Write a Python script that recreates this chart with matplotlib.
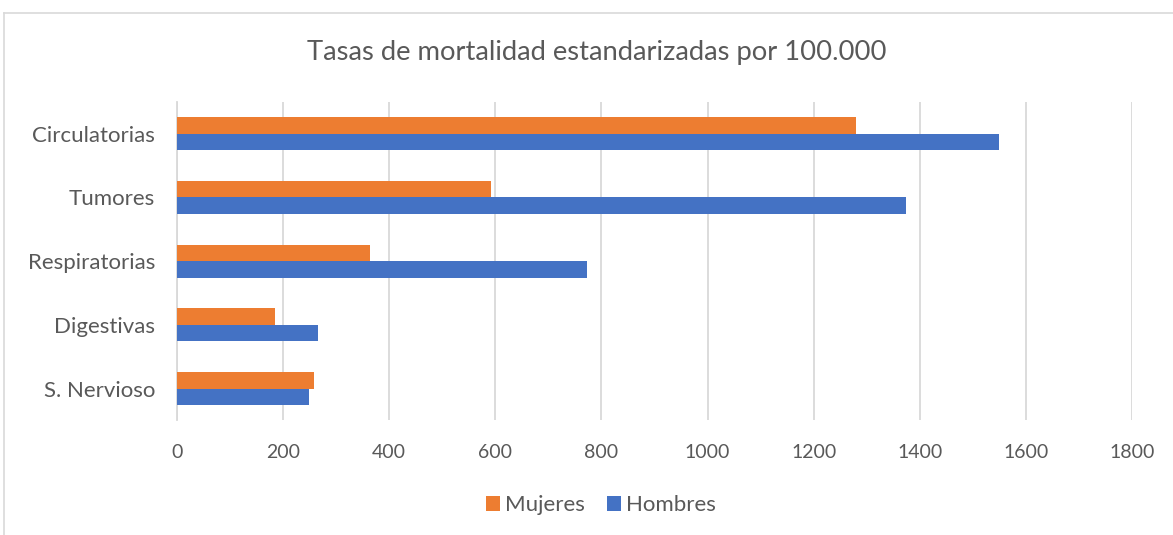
import matplotlib
matplotlib.use("Agg")
import matplotlib.pyplot as plt
import numpy as np

categories = ["Circulatorias", "Tumores", "Respiratorias", "Digestivas", "S. Nervioso"]
mujeres = [1279, 593, 364, 185, 259]
hombres = [1548, 1374, 772, 267, 249]
xticks = [0, 200, 400, 600, 800, 1000, 1200, 1400, 1600, 1800]

plt.rcParams['font.family'] = ['Lato', 'DejaVu Sans']
TXT = '#595959'
ORANGE = '#ED7D31'
BLUE = '#4472C4'
GRID = '#D9D9D9'

fig = plt.figure(figsize=(11.73, 5.35), dpi=100)
ax = fig.add_axes([0.1506, 0.2142, 0.8147, 0.5953])

y = np.arange(len(categories))
h = 0.259
ax.barh(y - h/2, mujeres, height=h, color=ORANGE, label='Mujeres', zorder=3)
ax.barh(y + h/2, hombres, height=h, color=BLUE, label='Hombres', zorder=3)

ax.set_xlim(0, 1800)
ax.set_ylim(len(categories) - 0.5, -0.5)
ax.set_xticks(xticks)
ax.set_xticklabels([str(t) for t in xticks])
ax.set_yticks(y)
ax.set_yticklabels(categories)
ax.grid(axis='x', color=GRID, linewidth=1.3, zorder=0)
for s in ['top', 'right', 'bottom']:
    ax.spines[s].set_visible(False)
ax.spines['left'].set_color(GRID)
ax.spines['left'].set_linewidth(1.3)
ax.tick_params(axis='both', length=0, colors=TXT)
ax.tick_params(axis='x', pad=17, labelsize=14)
ax.tick_params(axis='y', pad=15.5, labelsize=16)

fig.text(0.5085, 1 - 52/535, 'Tasas de mortalidad estandarizadas por 100.000',
         ha='center', va='center', fontsize=19.7, color=TXT)

leg = fig.legend(loc='center', bbox_to_anchor=(0.512, 1 - 505/535), ncol=2,
                 frameon=False, fontsize=16, handlelength=0.65, handleheight=0.65,
                 handletextpad=0.2, columnspacing=1.0)
for t in leg.get_texts():
    t.set_color(TXT)

# outer chart border
fig.add_artist(plt.Line2D([4/1173, 4/1173], [0, 1 - 13/535], color=GRID, linewidth=1.2))
fig.add_artist(plt.Line2D([4/1173, 1], [1 - 13/535, 1 - 13/535], color=GRID, linewidth=1.2))

fig.savefig('out.png', dpi=100)
